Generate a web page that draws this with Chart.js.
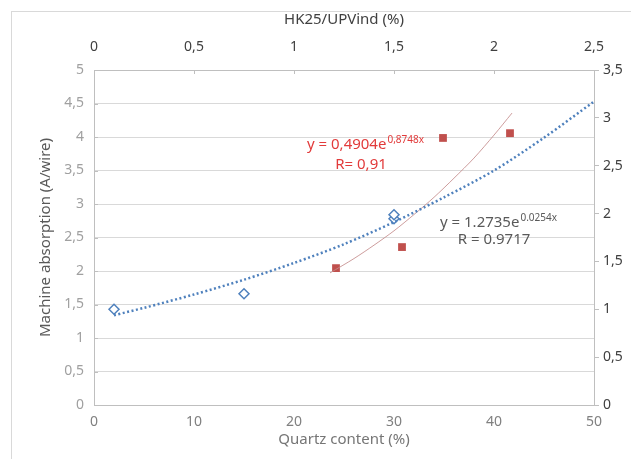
<!DOCTYPE html>
<html lang="en">
<head>
<meta charset="utf-8" />
<title>Machine absorption vs quartz content</title>
<script src="https://cdn.jsdelivr.net/npm/chart.js@4.4.1/dist/chart.umd.min.js"></script>
<style>
    html, body { margin: 0; padding: 0; background: #fff; }
    #wrap { position: relative; width: 631px; height: 459px; overflow: hidden; }
    #frame { position: absolute; left: 11px; top: 11px; width: 640px; height: 470px; border: 1px solid #d9d9d9; }
    #chart { position: absolute; left: 0; top: 0; }
</style>
</head>
<body>
<div id="wrap">
    <div id="frame"></div>
    <canvas id="chart" width="631" height="459"></canvas>
</div>
<script>
    // measured points, bottom/left axes (quartz content)
    const quartzX = [2, 15, 30, 30];
    const quartzY = [1.43, 1.66, 2.78, 2.84];
    // measured points, top/right axes (HK25/UPVind)
    const hkX = [1.21, 1.54, 1.745, 2.08];
    const hkY = [1.43, 1.65, 2.79, 2.84];
    // trend lines
    const quartzFitX = [2, 5, 10, 15, 20, 25, 30, 35, 40, 45, 50];
    const quartzFitY = [1.34, 1.45, 1.65, 1.87, 2.12, 2.40, 2.73, 3.10, 3.50, 3.99, 4.53];
    const hkFitX = [1.18, 1.3, 1.4, 1.5, 1.6, 1.7, 1.8, 1.9, 2.0, 2.09];
    const hkFitY = [1.38, 1.53, 1.67, 1.82, 1.99, 2.17, 2.37, 2.58, 2.82, 3.05];

    const FONT = '"Noto Sans", sans-serif';

    function pts(xs, ys) {
        return xs.map((x, i) => ({ x: x, y: ys[i] }));
    }
    function comma(v) {
        return v.toString().replace('.', ',');
    }

    // equation labels, placed in bottom/left axis units
    const notes = [
        { x: 21.3, y: 3.88, base: 'y = 0,4904e', sup: '0,8748x', color: '#e23b3b', align: 'left' },
        { x: 26.7, y: 3.58, base: 'R= 0,91', sup: '', color: '#e23b3b', align: 'center' },
        { x: 34.6, y: 2.72, base: 'y = 1.2735e', sup: '0.0254x', color: '#595959', align: 'left' },
        { x: 40.0, y: 2.46, base: 'R = 0.9717', sup: '', color: '#595959', align: 'center' }
    ];

    const extras = {
        id: 'extras',
        afterDraw(chart) {
            const ctx = chart.ctx;
            const sx = chart.scales.x, sy = chart.scales.y, top = chart.scales.x2, left = chart.scales.y;
            ctx.save();
            // inward tick marks on top and left axes
            ctx.strokeStyle = '#bfbfbf';
            ctx.lineWidth = 1;
            ctx.beginPath();
            top.ticks.forEach(t => {
                const px = Math.round(top.getPixelForValue(t.value)) + 0.5;
                ctx.moveTo(px, top.bottom);
                ctx.lineTo(px, top.bottom + 4);
            });
            left.ticks.forEach(t => {
                const py = Math.round(left.getPixelForValue(t.value)) + 0.5;
                ctx.moveTo(left.right, py);
                ctx.lineTo(left.right + 4, py);
            });
            ctx.stroke();

            ctx.textBaseline = 'middle';
            notes.forEach(n => {
                const bigFont = '15px ' + FONT;
                const smallFont = '10px ' + FONT;
                ctx.font = bigFont;
                const wb = ctx.measureText(n.base).width;
                ctx.font = smallFont;
                const ws = n.sup ? ctx.measureText(n.sup).width : 0;
                let x0 = sx.getPixelForValue(n.x);
                const y0 = sy.getPixelForValue(n.y);
                if (n.align === 'center') x0 -= (wb + ws) / 2;
                ctx.fillStyle = n.color;
                ctx.textAlign = 'left';
                ctx.font = bigFont;
                ctx.fillText(n.base, x0, y0);
                if (n.sup) {
                    ctx.font = smallFont;
                    ctx.fillText(n.sup, x0 + wb + 1, y0 - 5);
                }
            });
            ctx.restore();
        }
    };

    const tickFont = { family: FONT, size: 14 };
    const titleFont = { family: FONT, size: 15 };

    new Chart(document.getElementById('chart'), {
        type: 'scatter',
        data: {
            datasets: [
                {
                    label: 'Quartz trend',
                    data: pts(quartzFitX, quartzFitY),
                    xAxisID: 'x', yAxisID: 'y',
                    showLine: true,
                    borderColor: '#4f81bd',
                    borderWidth: 2.5,
                    borderDash: [2, 2.5],
                    pointRadius: 0,
                    tension: 0.3
                },
                {
                    label: 'HK trend',
                    data: pts(hkFitX, hkFitY),
                    xAxisID: 'x2', yAxisID: 'y2',
                    showLine: true,
                    borderColor: 'rgba(196,140,140,0.85)',
                    borderWidth: 1,
                    pointRadius: 0,
                    tension: 0.3
                },
                {
                    label: 'Quartz content',
                    data: pts(quartzX, quartzY),
                    xAxisID: 'x', yAxisID: 'y',
                    pointStyle: 'rectRot',
                    pointRadius: 5,
                    borderColor: '#4f81bd',
                    backgroundColor: '#ffffff',
                    borderWidth: 1.5
                },
                {
                    label: 'HK25/UPVind',
                    data: pts(hkX, hkY),
                    xAxisID: 'x2', yAxisID: 'y2',
                    pointStyle: 'rect',
                    pointRadius: 5.5,
                    borderColor: '#c0504d',
                    backgroundColor: '#c0504d',
                    borderWidth: 0
                }
            ]
        },
        options: {
            responsive: false,
            animation: false,
            layout: { padding: 0 },
            plugins: { legend: { display: false }, tooltip: { enabled: false } },
            scales: {
                x: {
                    type: 'linear', position: 'bottom', min: 0, max: 50,
                    ticks: { stepSize: 10, color: '#808080', font: tickFont, padding: 9 },
                    grid: { display: false, drawTicks: false },
                    border: { color: '#bfbfbf' },
                    title: { display: true, text: 'Quartz content (%)', color: '#767676', font: titleFont, padding: { top: 0, bottom: 10 } },
                    afterFit(s) { s.height = 54; }
                },
                x2: {
                    type: 'linear', position: 'top', min: 0, max: 2.5,
                    ticks: { stepSize: 0.5, color: '#404040', font: tickFont, padding: 15, callback: comma },
                    grid: { display: false, drawTicks: false },
                    border: { color: '#bfbfbf' },
                    title: { display: true, text: 'HK25/UPVind (%)', color: '#404040', font: titleFont, padding: { top: 11, bottom: 0 } },
                    afterFit(s) { s.height = 70; }
                },
                y: {
                    type: 'linear', position: 'left', min: 0, max: 5,
                    ticks: { stepSize: 0.5, color: '#a0a0a0', font: tickFont, padding: 10, callback: comma },
                    grid: { color: '#d9d9d9', drawTicks: false },
                    border: { color: '#bfbfbf' },
                    title: { display: true, text: 'Machine absorption (A/wire)', color: '#595959', font: titleFont, padding: { top: 37, bottom: 0 } },
                    afterFit(s) { s.width = 94; }
                },
                y2: {
                    type: 'linear', position: 'right', min: 0, max: 3.5,
                    ticks: { stepSize: 0.5, color: '#404040', font: tickFont, padding: 4, callback: comma },
                    grid: { drawOnChartArea: false, drawTicks: true, tickLength: 5, color: '#bfbfbf' },
                    border: { color: '#bfbfbf' },
                    afterFit(s) { s.width = 37; }
                }
            }
        },
        plugins: [extras]
    });
</script>
</body>
</html>
